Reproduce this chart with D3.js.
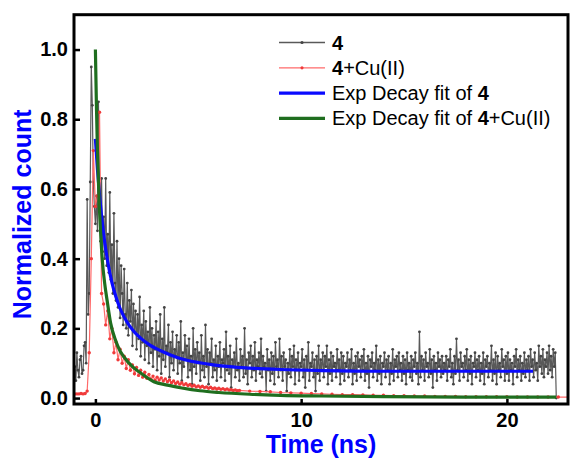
<!DOCTYPE html>
<html>
<head>
<meta charset="utf-8">
<script src="https://cdn.jsdelivr.net/npm/d3@7"></script>
<style>
    body { margin: 0; background: #fff; }
    svg { display: block; font-family: Arial, "Liberation Sans", sans-serif; }
</style>
</head>
<body>
<svg id="chart" width="570" height="459"></svg>
<script>
// decay trace of 4, 0.05 ns channels starting at -1.0 ns (one row = 1 ns)
const grayStart = -1.0;
const grayStep = 0.05;
const grayValues = [
    0.09, 0.05, 0.13, 0.08, 0.06, 0.11, 0.12, 0.07, 0.08, 0.15, 0.16, 0.10, 0.57, 0.24, 0.30, 0.62, 0.95, 0.84, 0.62, 0.55,
    0.50, 0.58, 0.48, 0.85, 0.55, 0.45, 0.63, 0.42, 0.52, 0.40, 0.63, 0.38, 0.47, 0.36, 0.59, 0.34, 0.44, 0.30, 0.53, 0.33,
    0.28, 0.45, 0.26, 0.40, 0.23, 0.38, 0.30, 0.21, 0.37, 0.24, 0.20, 0.33, 0.18, 0.28, 0.22, 0.31, 0.15, 0.27, 0.19, 0.25,
    0.14, 0.24, 0.17, 0.29, 0.12, 0.21, 0.16, 0.25, 0.11, 0.22, 0.15, 0.19, 0.10, 0.26, 0.13, 0.20, 0.09, 0.18, 0.14, 0.22,
    0.08, 0.19, 0.12, 0.24, 0.07, 0.17, 0.11, 0.26, 0.09, 0.15, 0.13, 0.21, 0.06, 0.16, 0.10, 0.19, 0.08, 0.14, 0.12, 0.18,
    0.07, 0.16, 0.10, 0.22, 0.05, 0.13, 0.09, 0.18, 0.11, 0.15, 0.06, 0.17, 0.08, 0.12, 0.04, 0.20, 0.09, 0.14, 0.07, 0.16,
    0.10, 0.13, 0.05, 0.18, 0.08, 0.12, 0.06, 0.21, 0.09, 0.14, 0.04, 0.13, 0.10, 0.17, 0.06, 0.11, 0.08, 0.15, 0.05, 0.12,
    0.09, 0.16, 0.06, 0.11, 0.10, 0.14, 0.05, 0.19, 0.08, 0.12, 0.07, 0.15, 0.03, 0.11, 0.09, 0.13, 0.06, 0.17, 0.08, 0.10,
    0.05, 0.14, 0.09, 0.12, 0.06, 0.20, 0.07, 0.11, 0.04, 0.13, 0.10, 0.15, 0.06, 0.12, 0.08, 0.16, 0.05, 0.11, 0.09, 0.13,
    0.07, 0.17, 0.06, 0.12, 0.09, 0.10, 0.02, 0.14, 0.08, 0.11, 0.05, 0.13, 0.07, 0.12, 0.04, 0.16, 0.09, 0.11, 0.06, 0.17,
    0.08, 0.12, 0.05, 0.13, 0.09, 0.11, 0.02, 0.10, 0.07, 0.14, 0.06, 0.12, 0.09, 0.15, 0.04, 0.11, 0.08, 0.13, 0.05, 0.10,
    0.09, 0.14, 0.06, 0.11, 0.03, 0.12, 0.08, 0.16, 0.05, 0.10, 0.09, 0.13, 0.06, 0.11, 0.02, 0.12, 0.07, 0.15, 0.05, 0.11,
    0.08, 0.13, 0.06, 0.12, 0.09, 0.15, 0.04, 0.11, 0.07, 0.13, 0.05, 0.12, 0.09, 0.10, 0.06, 0.14, 0.08, 0.11, 0.04, 0.13,
    0.07, 0.12, 0.05, 0.10, 0.09, 0.13, 0.06, 0.11, 0.08, 0.14, 0.04, 0.10, 0.07, 0.12, 0.05, 0.13, 0.09, 0.11, 0.06, 0.12,
    0.08, 0.14, 0.05, 0.10, 0.07, 0.12, 0.03, 0.11, 0.09, 0.13, 0.06, 0.10, 0.08, 0.15, 0.05, 0.11, 0.07, 0.12, 0.04, 0.10,
    0.09, 0.13, 0.06, 0.11, 0.08, 0.12, 0.04, 0.10, 0.07, 0.14, 0.05, 0.11, 0.09, 0.12, 0.06, 0.13, 0.08, 0.10, 0.05, 0.12,
    0.07, 0.11, 0.04, 0.13, 0.08, 0.10, 0.06, 0.12, 0.05, 0.11, 0.09, 0.13, 0.07, 0.10, 0.04, 0.19, 0.06, 0.12, 0.08, 0.11,
    0.05, 0.13, 0.09, 0.10, 0.06, 0.14, 0.07, 0.11, 0.03, 0.12, 0.08, 0.10, 0.05, 0.13, 0.09, 0.11, 0.06, 0.12, 0.07, 0.10,
    0.08, 0.12, 0.05, 0.11, 0.09, 0.14, 0.06, 0.10, 0.04, 0.12, 0.07, 0.17, 0.08, 0.11, 0.05, 0.13, 0.09, 0.10, 0.06, 0.12,
    0.08, 0.14, 0.05, 0.11, 0.07, 0.12, 0.04, 0.10, 0.09, 0.13, 0.06, 0.11, 0.08, 0.12, 0.05, 0.10, 0.07, 0.13, 0.04, 0.11,
    0.09, 0.12, 0.06, 0.10, 0.08, 0.15, 0.05, 0.11, 0.07, 0.13, 0.04, 0.12, 0.08, 0.10, 0.06, 0.14, 0.09, 0.11, 0.05, 0.12,
    0.07, 0.13, 0.05, 0.11, 0.08, 0.10, 0.04, 0.12, 0.09, 0.14, 0.06, 0.11, 0.08, 0.12, 0.05, 0.10, 0.07, 0.13, 0.06, 0.11,
    0.08, 0.12, 0.05, 0.14, 0.09, 0.11, 0.06, 0.13, 0.08, 0.10, 0.05, 0.15, 0.09, 0.12, 0.07, 0.14, 0.06, 0.11, 0.09, 0.13,
    0.07, 0.15, 0.08, 0.12, 0.06, 0.14, 0.09, 0.13, 0.00
];

// decay trace of 4+Cu(II): 0.1 ns channels to 7 ns, then every 0.5 ns
const redStart = -1.0;
const redStep = 0.1;
const redValues = [
    0.012, 0.012, 0.012, 0.013, 0.012, 0.013,
    0.020, 0.130, 0.400, 0.710, 0.550,
    0.580, 0.820, 0.300, 0.270, 0.210, 0.250, 0.170, 0.200, 0.130, 0.160,
    0.110, 0.140, 0.100, 0.120, 0.085, 0.110, 0.080, 0.095, 0.070, 0.088,
    0.065, 0.080, 0.060, 0.074, 0.057, 0.068, 0.054, 0.063, 0.051, 0.060,
    0.052, 0.058, 0.049, 0.055, 0.047, 0.052, 0.044, 0.049, 0.042, 0.046,
    0.040, 0.044, 0.038, 0.041, 0.036, 0.039, 0.034, 0.037, 0.032, 0.035,
    0.031, 0.034, 0.030, 0.032, 0.028, 0.031, 0.027, 0.029, 0.026, 0.028,
    0.025, 0.027, 0.024, 0.026, 0.023, 0.024, 0.022, 0.023, 0.021, 0.022
];
const redTailStart = 7.5;
const redTailStep = 0.5;
const redTailValues = [
    0.020, 0.019, 0.018, 0.016, 0.015, 0.014, 0.013, 0.012, 0.011, 0.010,
    0.010, 0.009, 0.008, 0.008, 0.007, 0.007, 0.006, 0.006, 0.005, 0.005,
    0.005, 0.004, 0.004, 0.004, 0.004, 0.004, 0.003, 0.003, 0.003, 0.003,
    0.003, 0.003
];

// fitted curves as [time, value]
const fitOf4 = [
    [0, 0.744], [0.1, 0.656], [0.2, 0.583], [0.3, 0.522], [0.4, 0.471], [0.5, 0.428],
    [0.6, 0.391], [0.8, 0.332], [1.0, 0.290], [1.2, 0.257], [1.5, 0.222], [1.87, 0.191],
    [2.2, 0.172], [2.65, 0.152], [3.2, 0.135], [4.0, 0.116], [5.0, 0.102], [6.0, 0.093],
    [7.5, 0.086], [9, 0.082], [11, 0.079], [14, 0.077], [17.2, 0.077], [21.27, 0.077]
];
const fitOf4Cu = [
    [0, 1.0], [0.05, 0.84], [0.1, 0.71], [0.17, 0.58], [0.25, 0.48], [0.33, 0.40],
    [0.45, 0.33], [0.57, 0.28], [0.74, 0.215], [0.98, 0.166], [1.2, 0.135], [1.39, 0.118],
    [1.8, 0.09], [2.2, 0.072], [2.84, 0.047], [3.5, 0.037], [4.2, 0.029], [5.08, 0.021],
    [6, 0.016], [7.5, 0.011], [9, 0.008], [11, 0.006], [14, 0.004], [18, 0.003], [22.4, 0.003]
];

const xTicks = [0, 10, 20];
const yTicks = [0.0, 0.2, 0.4, 0.6, 0.8, 1.0];

const grayData = grayValues.map((v, i) => [grayStart + i*grayStep, v]);
const redData = redValues.map((v, i) => [redStart + i*redStep, v])
    .concat(redTailValues.map((v, i) => [redTailStart + i*redTailStep, v]));

const box = { left: 74, right: 568, top: 14.7, bottom: 404 };

const svg = d3.select('#chart');

const x = d3.scaleLinear()
    .domain([-1.04, 22.97])
    .range([box.left, box.right]);

const y = d3.scaleLinear()
    .domain([-0.017, 1.1])
    .range([box.bottom, box.top]);

svg.append('defs')
    .append('clipPath')
        .attr('id', 'plot-clip')
    .append('rect')
        .attr('x', box.left)
        .attr('y', box.top)
        .attr('width', box.right - box.left)
        .attr('height', box.bottom - box.top);

const plot = svg.append('g')
    .attr('clip-path', 'url(#plot-clip)');

const line = d3.line()
    .x(d => x(d[0]))
    .y(d => y(d[1]));

const smooth = d3.line()
    .x(d => x(d[0]))
    .y(d => y(d[1]))
    .curve(d3.curveMonotoneX);

// raw traces
plot.append('path')
    .datum(grayData)
    .attr('d', line)
    .attr('fill', 'none')
    .attr('stroke', '#595959')
    .attr('stroke-width', 1.2);

plot.append('g')
    .selectAll('circle')
    .data(grayData)
    .join('circle')
        .attr('cx', d => x(d[0]))
        .attr('cy', d => y(d[1]))
        .attr('r', 1.4)
        .attr('fill', '#444');

plot.append('path')
    .datum(redData)
    .attr('d', line)
    .attr('fill', 'none')
    .attr('stroke', '#ff6a6a')
    .attr('stroke-width', 1.2);

plot.append('g')
    .selectAll('circle')
    .data(redData)
    .join('circle')
        .attr('cx', d => x(d[0]))
        .attr('cy', d => y(d[1]))
        .attr('r', 1.7)
        .attr('fill', '#f03a3a');

// fits
plot.append('path')
    .datum(fitOf4)
    .attr('d', smooth)
    .attr('fill', 'none')
    .attr('stroke', '#0a0aff')
    .attr('stroke-width', 3.2);

plot.append('path')
    .datum(fitOf4Cu)
    .attr('d', smooth)
    .attr('fill', 'none')
    .attr('stroke', '#1f6e1f')
    .attr('stroke-width', 3.2);

// axes
const xAxis = svg.append('g')
    .attr('transform', `translate(0,${box.bottom})`)
    .call(d3.axisBottom(x)
        .tickValues(xTicks)
        .tickSizeInner(-5)
        .tickSizeOuter(0)
        .tickPadding(9));

const yAxis = svg.append('g')
    .attr('transform', `translate(${box.left},0)`)
    .call(d3.axisLeft(y)
        .tickValues(yTicks)
        .tickFormat(d3.format('.1f'))
        .tickSizeInner(-6)
        .tickSizeOuter(0)
        .tickPadding(6));

[xAxis, yAxis].forEach(a => {
    a.select('.domain').remove();
    a.selectAll('line')
        .attr('stroke', '#000')
        .attr('stroke-width', 2.5);
    a.selectAll('text')
        .attr('fill', '#000')
        .style('font-size', '20px')
        .style('font-weight', 'bold');
});

svg.append('rect')
    .attr('x', box.left)
    .attr('y', box.top)
    .attr('width', box.right - box.left)
    .attr('height', box.bottom - box.top)
    .attr('fill', 'none')
    .attr('stroke', '#000')
    .attr('stroke-width', 3);

// axis titles
svg.append('text')
    .attr('x', (box.left + box.right)/2)
    .attr('y', 453)
    .attr('text-anchor', 'middle')
    .attr('fill', '#0000ff')
    .style('font-size', '25px')
    .style('font-weight', 'bold')
    .text('Time (ns)');

svg.append('text')
    .attr('transform', `translate(31,${(box.top + box.bottom)/2 + 5}) rotate(-90)`)
    .attr('text-anchor', 'middle')
    .attr('fill', '#0000ff')
    .style('font-size', '25px')
    .style('font-weight', 'bold')
    .text('Normalized count');

// legend
const legendItems = [
    { parts: [['4', true]], color: '#595959', marker: '#444', width: 1.3 },
    { parts: [['4', true], ['+Cu(II)', false]], color: '#ff6a6a', marker: '#f03a3a', width: 1.3 },
    { parts: [['Exp Decay fit of ', false], ['4', true]], color: '#0a0aff', width: 3.2 },
    { parts: [['Exp Decay fit of ', false], ['4', true], ['+Cu(II)', false]], color: '#1f6e1f', width: 3.2 }
];

const legend = svg.append('g')
    .attr('transform', 'translate(279,42.5)');

const item = legend.selectAll('g')
    .data(legendItems)
    .join('g')
        .attr('transform', (d, i) => `translate(0,${i*25.3})`);

item.append('line')
    .attr('x1', 0)
    .attr('x2', 46)
    .attr('stroke', d => d.color)
    .attr('stroke-width', d => d.width);

item.filter(d => d.marker)
    .append('circle')
        .attr('cx', 23)
        .attr('r', 1.6)
        .attr('fill', d => d.marker);

item.append('text')
    .attr('x', 53)
    .attr('y', 7)
    .attr('fill', '#000')
    .style('font-size', '20px')
    .selectAll('tspan')
    .data(d => d.parts)
    .join('tspan')
        .style('font-weight', d => d[1] ? 'bold' : 'normal')
        .text(d => d[0]);
</script>
</body>
</html>
